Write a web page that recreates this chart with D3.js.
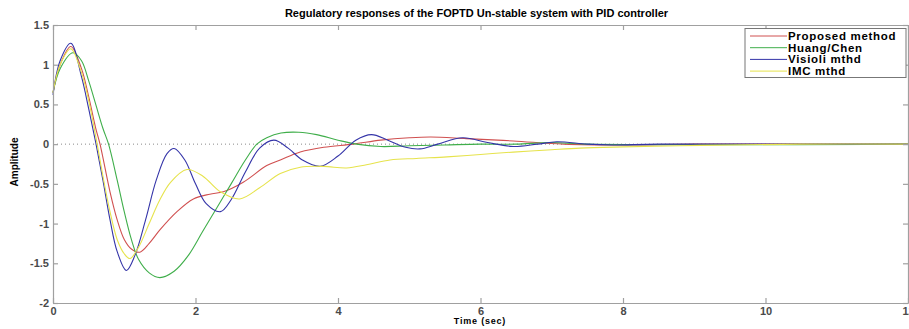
<!DOCTYPE html>
<html>
<head>
<meta charset="utf-8">
<script src="https://cdn.jsdelivr.net/npm/d3@7"></script>
<style>
body { margin: 0; background: #fff; }
text { font-family: Arial, "Liberation Sans", sans-serif; }
</style>
</head>
<body>
<script>
// setup base env
var width = 909, height = 329;
var margin = {left: 53, right: 1, top: 25, bottom: 26};

var svg = d3.select('body').append('svg')
  .attr('width', width)
  .attr('height', height);

// data: [time, amplitude]
var proposed = [[0,0.65],[0.1,1.0],[0.25,1.23],[0.4,0.95],[0.5,0.6],[0.6,0.2],[0.66,0.0],[0.8,-0.6],[0.9,-0.95],[1.0,-1.2],[1.1,-1.32],[1.22,-1.36],[1.35,-1.25],[1.5,-1.08],[1.74,-0.85],[1.97,-0.69],[2.2,-0.63],[2.39,-0.6],[2.67,-0.48],[3.0,-0.27],[3.19,-0.2],[3.47,-0.1],[3.8,-0.04],[4.21,0.0],[4.6,0.05],[5.0,0.08],[5.3,0.09],[5.8,0.07],[6.46,0.04],[7.17,0.0],[8.0,-0.01],[9.0,0],[12,0]];
var huang = [[0,0.65],[0.1,0.95],[0.28,1.15],[0.4,1.05],[0.5,0.8],[0.6,0.5],[0.7,0.2],[0.78,0.0],[0.9,-0.45],[1.0,-0.85],[1.1,-1.2],[1.2,-1.45],[1.35,-1.62],[1.5,-1.68],[1.7,-1.6],[1.9,-1.4],[2.1,-1.1],[2.3,-0.8],[2.5,-0.5],[2.7,-0.2],[2.86,0.0],[3.0,0.08],[3.2,0.14],[3.45,0.15],[3.7,0.12],[4.0,0.05],[4.26,0.0],[4.6,-0.03],[5.0,-0.02],[5.5,-0.01],[6.0,0],[6.5,0],[7.0,0.02],[7.5,0],[12,0]];
var visioli = [[0,0.62],[0.1,1.05],[0.25,1.27],[0.4,0.85],[0.5,0.45],[0.6,0.02],[0.7,-0.45],[0.8,-0.95],[0.9,-1.35],[1.03,-1.59],[1.15,-1.4],[1.3,-0.95],[1.45,-0.45],[1.6,-0.12],[1.7,-0.055],[1.85,-0.2],[2.0,-0.5],[2.15,-0.75],[2.35,-0.85],[2.5,-0.7],[2.7,-0.35],[2.9,-0.05],[3.1,0.05],[3.3,-0.05],[3.5,-0.2],[3.75,-0.28],[4.0,-0.15],[4.25,0.05],[4.47,0.12],[4.7,0.05],[4.95,-0.04],[5.15,-0.06],[5.4,0.0],[5.75,0.08],[6.1,0.02],[6.46,-0.03],[6.8,0.0],[7.07,0.03],[7.5,0.0],[7.86,-0.01],[8.5,0],[12,0]];
var imc = [[0,0.65],[0.1,1.0],[0.25,1.2],[0.4,0.9],[0.5,0.55],[0.62,0.0],[0.7,-0.4],[0.8,-0.85],[0.9,-1.2],[1.0,-1.38],[1.08,-1.44],[1.2,-1.3],[1.35,-1.0],[1.5,-0.7],[1.65,-0.48],[1.88,-0.32],[2.1,-0.4],[2.35,-0.6],[2.62,-0.69],[2.9,-0.55],[3.19,-0.37],[3.47,-0.29],[3.8,-0.28],[4.12,-0.3],[4.4,-0.26],[4.73,-0.2],[5.1,-0.18],[5.53,-0.16],[6.0,-0.13],[6.46,-0.1],[7.0,-0.07],[7.4,-0.05],[8.0,-0.035],[8.8,-0.02],[9.5,-0.01],[10.5,0],[12,0]];

var seriesNames = ['Proposed method', 'Huang/Chen', 'Visioli mthd', 'IMC mthd'];
var seriesData = [proposed, huang, visioli, imc];
var seriesColors = ['#d05050', '#3fae4a', '#3434a8', '#e6e34c'];

var xTicks = [0, 2, 4, 6, 8, 10, 12];
var yTicks = [-2, -1.5, -1, -0.5, 0, 0.5, 1, 1.5];

var plotW = width - margin.left - margin.right;
var plotH = height - margin.top - margin.bottom;

var xScale = d3.scaleLinear().domain([0, 12]).range([0, plotW]);
var yScale = d3.scaleLinear().domain([-2, 1.5]).range([plotH, 0]);

var g = svg.append('g')
  .attr('transform', 'translate(' + margin.left + ',' + margin.top + ')');

// zero reference line
g.append('line')
  .attr('x1', 0).attr('x2', plotW)
  .attr('y1', yScale(0)).attr('y2', yScale(0))
  .attr('stroke', '#8a8a8a')
  .attr('stroke-dasharray', '1,3');

// curves
var line = d3.line()
  .x(function(d){ return xScale(d[0]); })
  .y(function(d){ return yScale(d[1]); })
  .curve(d3.curveCatmullRom.alpha(0.5));

g.selectAll('.curve')
  .data(seriesData)
  .enter()
  .append('path')
  .attr('class', 'curve')
  .attr('d', line)
  .attr('fill', 'none')
  .attr('stroke', function(d, i){ return seriesColors[i]; })
  .attr('stroke-width', 1.1);

// axes (matlab style: ticks inside, box all round)
var axisColor = '#a0a0a0';
var xAxis = d3.axisBottom(xScale).tickValues(xTicks).tickSizeInner(-5).tickSizeOuter(0).tickPadding(4);
var yAxis = d3.axisLeft(yScale).tickValues(yTicks).tickSizeInner(-5).tickSizeOuter(0).tickPadding(4)
  .tickFormat(function(d){ return d; });
var xTop = d3.axisTop(xScale).tickValues(xTicks).tickSizeInner(-5).tickSizeOuter(0).tickFormat('');
var yRight = d3.axisRight(yScale).tickValues(yTicks).tickSizeInner(-5).tickSizeOuter(0).tickFormat('');

g.append('g').attr('class', 'axis').attr('transform', 'translate(0,' + plotH + ')').call(xAxis);
g.append('g').attr('class', 'axis').call(yAxis);
g.append('g').attr('class', 'axis').call(xTop);
g.append('g').attr('class', 'axis').attr('transform', 'translate(' + plotW + ',0)').call(yRight);

g.selectAll('.axis path, .axis line').attr('stroke', axisColor).attr('stroke-width', 1.2);
g.selectAll('.axis text')
  .attr('fill', '#4a4a4a')
  .style('font-size', '11px')
  .style('font-weight', 'bold');

// title and axis labels
svg.append('text')
  .attr('x', margin.left + plotW / 2 - 4)
  .attr('y', 17)
  .attr('text-anchor', 'middle')
  .style('font-size', '11px')
  .style('font-weight', 'bold')
  .text('Regulatory responses of the FOPTD Un-stable system with PID controller');

svg.append('text')
  .attr('x', 480)
  .attr('y', 323.5)
  .attr('text-anchor', 'middle')
  .style('font-size', '9px')
  .style('font-weight', 'bold')
  .style('letter-spacing', '0.8px')
  .text('Time (sec)');

svg.append('text')
  .attr('transform', 'translate(18,' + (margin.top + plotH / 2 - 2) + ') rotate(-90)')
  .attr('text-anchor', 'middle')
  .style('font-family', '"Liberation Sans Narrow", "Arial Narrow", Arial, sans-serif')
  .style('font-size', '10px')
  .style('font-weight', 'bold')
  .text('Amplitude');

// legend
var legend = svg.append('g').attr('transform', 'translate(745,28.5)');
legend.append('rect')
  .attr('width', 161).attr('height', 49)
  .attr('fill', '#fff')
  .attr('stroke', '#777')
  .attr('stroke-width', 1);

var items = legend.selectAll('.item')
  .data(seriesNames)
  .enter()
  .append('g')
  .attr('class', 'item')
  .attr('transform', function(d, i){ return 'translate(0,' + (7.5 + i * 11.7) + ')'; });

items.append('line')
  .attr('x1', 5).attr('x2', 42)
  .attr('stroke', function(d, i){ return seriesColors[i]; })
  .attr('stroke-width', 1);

items.append('text')
  .attr('x', 43)
  .attr('y', 4)
  .style('font-size', '11.5px')
  .style('font-weight', 'bold')
  .style('letter-spacing', '0.7px')
  .text(function(d){ return d; });
</script>
</body>
</html>
